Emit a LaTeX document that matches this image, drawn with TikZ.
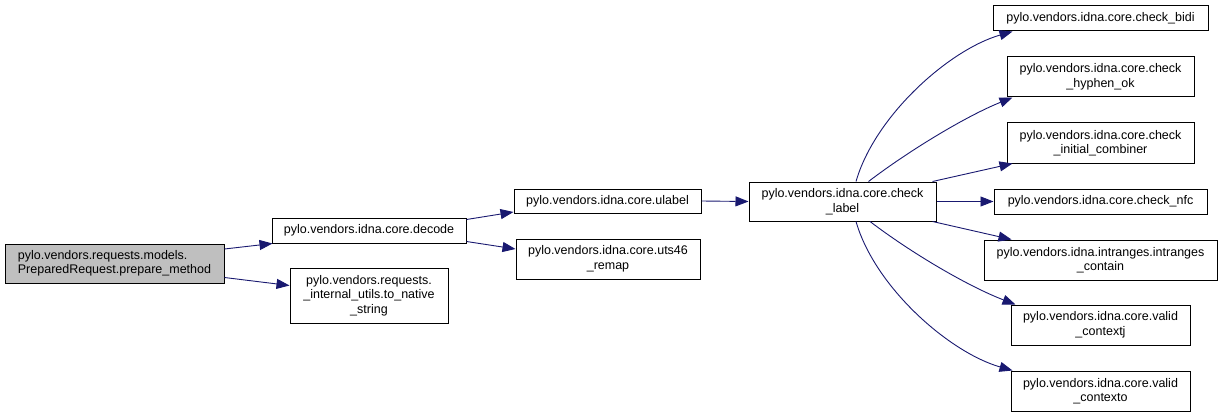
\documentclass[tikz,border=0pt]{standalone}
\usepackage{fontspec}
\setmainfont{Liberation Sans}
\usetikzlibrary{arrows.meta,calc}
\definecolor{edgeblue}{HTML}{191970}
\definecolor{hilite}{HTML}{BFBFBF}
\tikzset{
  fn/.style={draw=black, line width=1pt, fill=white, inner sep=0pt, align=center,
    font=\fontsize{12.5}{14.5}\selectfont},
  call/.style={draw=edgeblue, line width=0.9pt, -{Triangle[length=13pt,width=10pt]}, fill=none},
}
\begin{document}
\begin{tikzpicture}[x=1pt,y=-1pt]
\useasboundingbox (0,0) rectangle (1223,417);
\node[fn, fill=hilite, align=left, minimum width=219pt, minimum height=39pt] (A) at (114.5,263.5) {pylo.vendors.requests.models.\\PreparedRequest.prepare\_method};
\node[fn, minimum width=194pt, minimum height=25pt] (dec) at (369,230.5) {pylo.vendors.idna.core.decode};
\node[fn, minimum width=158pt, minimum height=55pt] (nat) at (369,295.5) {pylo.vendors.requests.\\\_internal\_utils.to\_native\\\_string};
\node[fn, minimum width=187pt, minimum height=24pt] (ul) at (607.5,201) {pylo.vendors.idna.core.ulabel};
\node[fn, minimum width=184pt, minimum height=40pt] (uts) at (608,259) {pylo.vendors.idna.core.uts46\\\_remap};
\node[fn, minimum width=187pt, minimum height=39pt] (cl) at (842.5,201.5) {pylo.vendors.idna.core.check\\\_label};
\node[fn, minimum width=215pt, minimum height=25pt] (bidi) at (1100.5,18.5) {pylo.vendors.idna.core.check\_bidi};
\node[fn, minimum width=187pt, minimum height=40pt] (hyp) at (1100.5,77) {pylo.vendors.idna.core.check\\\_hyphen\_ok};
\node[fn, minimum width=187pt, minimum height=40pt] (ini) at (1100.5,143) {pylo.vendors.idna.core.check\\\_initial\_combiner};
\node[fn, minimum width=213pt, minimum height=25pt] (nfc) at (1100.5,201.5) {pylo.vendors.idna.core.check\_nfc};
\node[fn, minimum width=233pt, minimum height=40pt] (intr) at (1100.5,260) {pylo.vendors.idna.intranges.intranges\\\_contain};
\node[fn, minimum width=179pt, minimum height=40pt] (cj) at (1100.5,325) {pylo.vendors.idna.core.valid\\\_contextj};
\node[fn, minimum width=179pt, minimum height=40pt] (co) at (1100.5,391) {pylo.vendors.idna.core.valid\\\_contexto};

\draw[call] ([yshift=14.5pt]A.east) -- ([xshift=1pt]dec.south west);
\draw[call] ([yshift=-14pt]A.east) -- ([yshift=10pt]nat.west);
\draw[call] ([yshift=11pt]dec.east) -- ([yshift=-11pt]ul.west);
\draw[call] ([yshift=-11pt]dec.east) -- ([yshift=10pt]uts.west);
\draw[call] (ul.east) -- (cl.west);
\draw[call] ([xshift=13.5pt]cl.north) .. controls +(19,-66) and +(-63,18) .. ([xshift=20pt]bidi.south west);
\draw[call] ([xshift=26pt]cl.north) .. controls +(42,-32) and +(-45,18) .. ([xshift=6pt]hyp.south west);
\draw[call] ([xshift=-4pt]cl.north east) -- ([xshift=6pt]ini.south west);
\draw[call] (cl.east) -- (nfc.west);
\draw[call] ([xshift=-4pt]cl.south east) -- ([xshift=28pt]intr.north west);
\draw[call] ([xshift=27.5pt]cl.south) .. controls +(42,32) and +(-47,-18) .. ([xshift=5pt]cj.north west);
\draw[call] ([xshift=13.5pt]cl.south) .. controls +(19,66) and +(-63,-18) .. ([xshift=2pt]co.north west);
\end{tikzpicture}
\end{document}
